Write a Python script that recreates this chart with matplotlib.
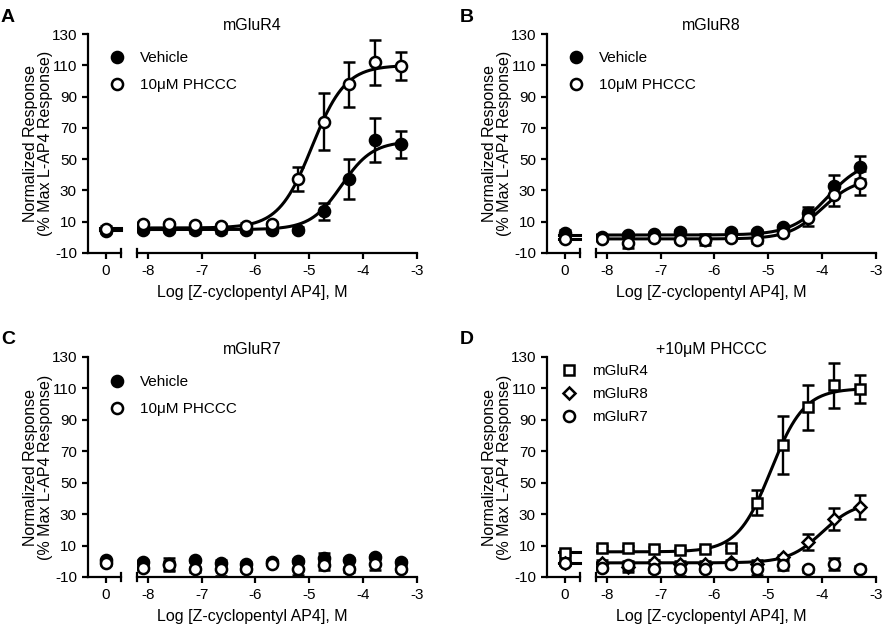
import numpy as np
import matplotlib
matplotlib.use("Agg")
import matplotlib.pyplot as plt
from matplotlib.lines import Line2D

plt.rcParams['font.family'] = ['Liberation Sans', 'DejaVu Sans']
plt.rcParams['font.size'] = 11
plt.rcParams['axes.unicode_minus'] = False

# log [Z-cyclopentyl AP4] (3-fold dilutions), the "0" point is no agonist
log_conc = [-8.08, -7.60, -7.12, -6.64, -6.17, -5.69, -5.21, -4.73, -4.26, -3.78, -3.30]

# mGluR4
r4_veh_base, r4_veh_base_err = 4.0, 1.5
r4_veh = [5.0, 5.0, 4.5, 4.5, 5.0, 4.8, 5.0, 16.6, 37.4, 62.3, 59.4]
r4_veh_err = [1.5, 1.5, 1.5, 1.5, 1.5, 1.5, 1.5, 5.5, 12.7, 13.9, 8.5]
r4_veh_fit = [5.0, 61.5, -4.40, 1.5]  # bottom, top, logEC50, hill

r4_phc_base, r4_phc_base_err = 5.5, 1.5
r4_phc = [8.5, 8.5, 7.9, 7.0, 7.5, 8.5, 37.4, 74.0, 98.0, 111.9, 109.6]
r4_phc_err = [1.5, 1.5, 1.5, 1.5, 1.5, 1.5, 7.7, 18.3, 14.4, 14.2, 8.9]
r4_phc_fit = [6.0, 110.0, -4.95, 1.4]

# mGluR8
r8_veh_base, r8_veh_base_err = 3.0, 1.5
r8_veh = [0.0, 1.3, 2.1, 3.4, -1.5, 3.4, 3.4, 6.6, 15.5, 33.0, 44.7]
r8_veh_err = [1.5, 1.5, 1.5, 1.5, 3.5, 1.5, 1.5, 1.5, 4.0, 7.0, 7.5]
r8_veh_fit = [1.5, 50.0, -3.90, 1.3]

r8_phc_base, r8_phc_base_err = -1.0, 1.5
r8_phc = [-1.0, -3.6, -0.4, -1.5, -1.5, -0.4, -1.5, 2.8, 12.3, 26.8, 34.7]
r8_phc_err = [1.5, 3.0, 1.5, 1.5, 1.5, 1.5, 2.0, 1.5, 5.0, 7.0, 7.5]
r8_phc_fit = [-1.0, 38.0, -4.00, 1.4]

# mGluR7 (no fit)
r7_veh_base, r7_veh_base_err = 0.6, 1.0
r7_veh = [-0.5, -2.0, 0.6, -0.9, -1.5, -0.5, 0.2, 2.3, 1.0, 2.7, -0.5]
r7_veh_err = [1.0, 4.0, 1.0, 1.5, 1.0, 1.0, 1.0, 3.0, 1.0, 1.5, 1.0]

r7_phc_base, r7_phc_base_err = -1.1, 1.0
r7_phc = [-4.1, -2.6, -5.1, -5.1, -4.7, -1.5, -4.7, -2.6, -5.1, -2.0, -4.7]
r7_phc_err = [1.5, 3.0, 1.5, 4.0, 1.5, 1.0, 4.0, 3.0, 1.5, 3.8, 1.5]

W, H = 883, 627
fig = plt.figure(figsize=(W / 100, H / 100), dpi=100)


def px_axes(x0, x1, y0, y1):
    return fig.add_axes([x0 / W, 1 - y1 / H, (x1 - x0) / W, (y1 - y0) / H])


def logistic(x, p):
    bottom, top, ec, hill = p
    return bottom + (top - bottom) / (1 + 10 ** ((ec - x) * hill))


def draw_panel(xl, y0, y1, series, title, letter, leg_pos, leg_space):
    # xl: left pixel of y axis; break segment + main segment
    ax0 = px_axes(xl, xl + 33, y0, y1)
    ax1 = px_axes(xl + 49, xl + 329, y0, y1)
    ax0.set_xlim(-0.32, 0.28)
    ax1.set_xlim(-8.2, -3.0)
    for ax in (ax0, ax1):
        ax.set_ylim(-10, 130)
        ax.spines['top'].set_visible(False)
        ax.spines['right'].set_visible(False)
        ax.spines['bottom'].set_linewidth(1.6)
        ax.spines['left'].set_linewidth(1.6)
        ax.tick_params(width=1.6, length=4.5, labelsize=11)
        ax.patch.set_visible(False)
    # break marks at the segment ends
    ax0.plot([1, 1], [-0.018, 0.018], color='k', lw=1.6, transform=ax0.transAxes, clip_on=False)
    ax1.plot([0, 0], [-0.018, 0.018], color='k', lw=1.6, transform=ax1.transAxes, clip_on=False)
    ax1.spines['left'].set_visible(False)
    ax1.tick_params(axis='y', left=False, labelleft=False)
    ax0.set_yticks(np.arange(-10, 131, 20))
    ax0.set_xticks([0])
    ax1.set_xticks([-8, -7, -6, -5, -4, -3])

    handles = []
    for base, base_err, vals, errs, fit, marker, ms, face, label in series:
        if fit is not None:
            xs = np.linspace(-8.2, -3.3, 300)
            ax1.plot(xs, logistic(xs, fit), color='k', lw=2.2, zorder=2)
            ax0.plot([-0.1, 0.28], [fit[0], fit[0]], color='k', lw=2.2, zorder=2, clip_on=False)
        kw = dict(fmt=marker, ms=ms, mfc=face, mec='k', mew=1.8, ecolor='k',
                  elinewidth=1.7, capsize=4.5, capthick=1.7, zorder=3)
        ax0.errorbar([0], [base], yerr=[base_err], **kw)
        ax1.errorbar(log_conc, vals, yerr=errs, **kw)
        handles.append(Line2D([], [], ls='none', marker=marker, ms=ms, mfc=face,
                              mec='k', mew=1.8, label=label))

    cx = xl + 164
    fig.text(cx / W, 1 - (y0 - 8) / H, title, ha='center', va='center', fontsize=11.5)
    fig.text((xl - 88 + 1) / W, 1 - (y0 - 17) / H, letter, ha='left', va='center',
             fontsize=14, fontweight='bold')
    fig.text((xl - 50) / W, 1 - (y0 + y1) / 2 / H,
             'Normalized Response\n(% Max L-AP4 Response)', rotation=90,
             ha='center', va='center', multialignment='center', fontsize=11.5,
             linespacing=1.0)
    fig.text(cx / W, 1 - (y1 + 40) / H, 'Log [Z-cyclopentyl AP4], M',
             ha='center', va='center', fontsize=11.5)
    fig.legend(handles=handles, loc='upper left', frameon=False,
               bbox_to_anchor=(leg_pos[0] / W, 1 - leg_pos[1] / H),
               borderpad=0, borderaxespad=0, handlelength=1.0,
               handletextpad=1.0, labelspacing=leg_space, fontsize=11)


veh = lambda b, be, v, e, f: (b, be, v, e, f, 'o', 8, 'k', 'Vehicle')
phc = lambda b, be, v, e, f: (b, be, v, e, f, 'o', 8, 'w', '10μM PHCCC')

draw_panel(88, 34, 253,
           [veh(r4_veh_base, r4_veh_base_err, r4_veh, r4_veh_err, r4_veh_fit),
            phc(r4_phc_base, r4_phc_base_err, r4_phc, r4_phc_err, r4_phc_fit)],
           'mGluR4', 'A', (109, 51), 0.85)
draw_panel(547, 34, 253,
           [veh(r8_veh_base, r8_veh_base_err, r8_veh, r8_veh_err, r8_veh_fit),
            phc(r8_phc_base, r8_phc_base_err, r8_phc, r8_phc_err, r8_phc_fit)],
           'mGluR8', 'B', (568, 51), 0.85)
draw_panel(88, 357, 577,
           [veh(r7_veh_base, r7_veh_base_err, r7_veh, r7_veh_err, None),
            phc(r7_phc_base, r7_phc_base_err, r7_phc, r7_phc_err, None)],
           'mGluR7', 'C', (109, 375), 0.85)
draw_panel(547, 357, 577,
           [(r4_phc_base, r4_phc_base_err, r4_phc, r4_phc_err, r4_phc_fit, 's', 6.5, 'w', 'mGluR4'),
            (r8_phc_base, r8_phc_base_err, r8_phc, r8_phc_err, r8_phc_fit, 'D', 6.5, 'w', 'mGluR8'),
            (r7_phc_base, r7_phc_base_err, r7_phc, r7_phc_err, None, 'o', 8, 'w', 'mGluR7')],
           '+10μM PHCCC', 'D', (561, 364), 0.6)

fig.savefig('out.png', dpi=100)
